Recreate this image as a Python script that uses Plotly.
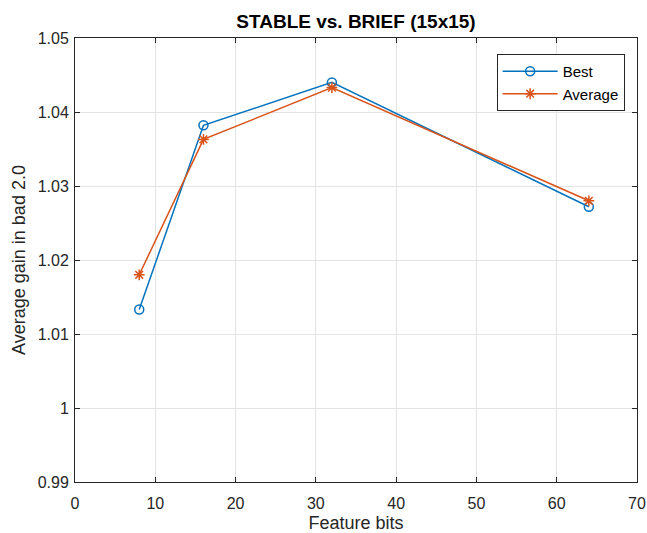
import plotly.graph_objects as go

feature_bits = [8, 16, 32, 64]
best = [1.0133, 1.0382, 1.0440, 1.0272]
average = [1.0180, 1.0363, 1.0433, 1.0280]

x_ticks = [0, 10, 20, 30, 40, 50, 60, 70]
y_ticks = [0.99, 1.00, 1.01, 1.02, 1.03, 1.04, 1.05]
y_tick_labels = ["0.99", "1", "1.01", "1.02", "1.03", "1.04", "1.05"]

FONT = "Liberation Sans, Arial, sans-serif"

fig = go.Figure()
fig.add_trace(go.Scatter(
    x=feature_bits, y=best, name="Best", mode="lines+markers",
    line=dict(color="#0072BD", width=1.5),
    marker=dict(symbol="circle-open", size=9, color="#0072BD", line=dict(width=1.5)),
))
fig.add_trace(go.Scatter(
    x=feature_bits, y=average, name="Average", mode="lines+markers",
    line=dict(color="#D95319", width=1.5),
    marker=dict(symbol="asterisk-open", size=9, color="#D95319", line=dict(width=1.5, color="#D95319")),
))

axis_common = dict(
    showline=True, linecolor="#262626", linewidth=1, mirror="ticks",
    ticks="inside", ticklen=5, tickcolor="#262626",
    showgrid=True, gridcolor="#E3E3E3", gridwidth=1, automargin=False,
    zeroline=False, tickfont=dict(size=16, color="#262626", family=FONT),
)

fig.update_layout(
    width=647, height=533,
    margin=dict(l=75, r=10, t=38, b=51),
    paper_bgcolor="white", plot_bgcolor="white",
    font=dict(family=FONT, color="#262626"),
    title=dict(text="<b>STABLE vs. BRIEF (15x15)</b>", x=(75 + 637) / 2 / 647, xanchor="center",
               y=1 - 21 / 533, yanchor="middle", font=dict(size=19, color="black", family=FONT)),
    xaxis=dict(range=[0, 70], tickvals=x_ticks, ticklabelstandoff=7,
               title=dict(text="Feature bits", font=dict(size=18, color="#262626"), standoff=5),
               **axis_common),
    yaxis=dict(range=[0.99, 1.05], tickvals=y_ticks, ticktext=y_tick_labels, ticklabelstandoff=2,
               title=dict(text="Average gain in bad 2.0", font=dict(size=18, color="#262626"), standoff=7),
               **axis_common),
    legend=dict(x=0.978, xanchor="right", y=0.964, yanchor="top",
                bgcolor="white", bordercolor="#262626", borderwidth=1,
                font=dict(size=15, color="black", family=FONT),
                itemwidth=55, tracegroupgap=0),
    showlegend=True,
)

fig.write_html("out.html")
